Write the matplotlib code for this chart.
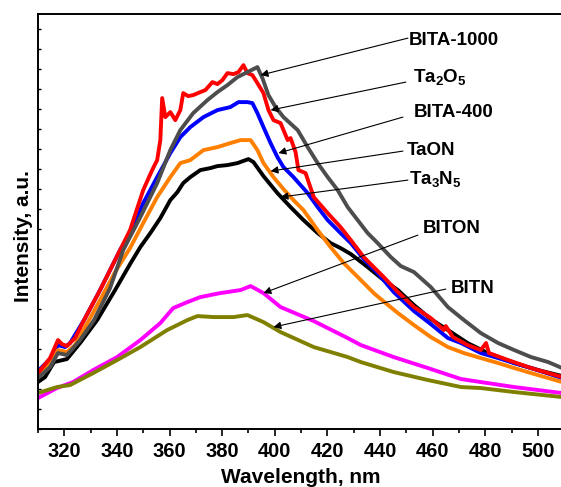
import matplotlib
matplotlib.use("Agg")
import matplotlib.pyplot as plt
from matplotlib.ticker import MultipleLocator, NullFormatter

plt.rcParams['font.family'] = ['Liberation Sans', 'DejaVu Sans']
plt.rcParams['font.weight'] = 'bold'
plt.rcParams['mathtext.fontset'] = 'custom'
plt.rcParams['mathtext.rm'] = 'Liberation Sans:bold'
plt.rcParams['mathtext.default'] = 'rm'

# PL spectra (wavelength in nm, intensity in a.u.)
wl_ta3n5 = [310.0, 312.7, 316.1, 321.0, 326.0, 332.5, 339.3, 345.0, 348.9, 352.7,
            356.5, 360.3, 363.0, 365.2, 367.9, 371.7, 375.5, 378.2, 382.0, 385.8,
            390.0, 391.9, 395.7, 401.0, 406.0, 410.9, 416.3, 421.2, 425.0, 428.9,
            435.3, 441.4, 446.8, 452.9, 459.3, 465.8, 473.3, 481.0, 491.0, 500.1, 509.2]
i_ta3n5 = [2.35, 2.60, 3.35, 3.50, 4.30, 5.45, 6.95, 8.25, 9.10, 9.80,
           10.55, 11.45, 11.85, 12.30, 12.60, 12.95, 13.05, 13.15, 13.20, 13.30,
           13.50, 13.35, 12.65, 11.80, 11.10, 10.45, 9.80, 9.30, 9.05, 8.75,
           8.10, 7.45, 6.95, 6.20, 5.50, 4.95, 4.30, 3.80, 3.30, 2.95, 2.65]

wl_ta2o5 = [310.0, 314.6, 317.6, 319.1, 321.0, 324.1, 327.5, 333.6, 341.2, 345.0,
            350.0, 353.4, 355.3, 356.5, 357.2, 358.4, 360.3, 362.2, 364.1, 365.2,
            367.1, 369.0, 371.7, 373.6, 376.3, 378.2, 380.1, 382.0, 384.3, 386.2,
            388.1, 389.6, 391.5, 393.4, 395.7, 397.6, 399.5, 402.2, 404.9, 406.0,
            407.9, 409.0, 411.7, 414.8, 420.1, 425.0, 428.9, 433.8, 437.6, 441.4,
            446.8, 452.9, 459.3, 464.3, 465.0, 467.7, 473.3, 478.3, 480.3, 481.4,
            488.7, 497.4, 509.2]
i_ta2o5 = [2.80, 3.55, 4.45, 4.25, 4.15, 4.55, 5.45, 6.95, 8.95, 9.95,
           11.95, 12.95, 13.45, 14.45, 16.55, 15.60, 15.85, 15.45, 15.95, 16.80,
           16.65, 16.70, 16.85, 16.95, 17.35, 17.25, 17.45, 17.80, 17.75, 17.85,
           18.20, 17.80, 17.70, 17.30, 16.80, 15.95, 15.45, 15.30, 14.45, 14.55,
           13.85, 12.95, 12.80, 11.60, 10.80, 10.10, 9.45, 8.60, 8.10, 7.60,
           6.85, 6.10, 5.55, 4.95, 5.15, 4.60, 4.20, 3.95, 4.30, 3.80,
           3.45, 3.05, 2.60]

wl_bita1000 = [310.0, 314.6, 317.6, 321.0, 326.0, 331.3, 337.4, 342.4, 348.9, 355.3,
               360.3, 364.1, 369.0, 374.4, 378.2, 382.0, 385.8, 389.6, 393.4, 395.3,
               397.6, 400.3, 403.3, 408.7, 412.5, 416.3, 420.1, 423.9, 427.7, 431.5,
               435.3, 439.1, 444.1, 447.9, 452.9, 459.3, 465.8, 471.9, 478.3, 484.9,
               491.0, 497.4, 503.9, 509.2]
i_bita1000 = [2.55, 3.10, 3.80, 3.70, 4.45, 5.45, 7.05, 8.95, 10.60, 12.30,
              13.95, 14.95, 15.80, 16.45, 16.85, 17.20, 17.60, 17.85, 18.10, 17.55,
              16.70, 16.10, 15.60, 14.95, 14.10, 13.30, 12.60, 11.95, 11.10, 10.45,
              9.80, 9.30, 8.60, 8.15, 7.85, 7.10, 6.10, 5.45, 4.80, 4.30,
              3.95, 3.60, 3.35, 3.05]

wl_bita400 = [310.0, 314.6, 317.6, 320.3, 322.2, 327.5, 333.6, 341.2, 345.0, 350.0,
              355.3, 360.3, 364.1, 367.9, 372.9, 378.2, 383.1, 386.2, 389.6, 391.5,
              393.4, 395.7, 398.4, 401.0, 403.3, 407.1, 412.5, 416.3, 420.1, 425.0,
              428.9, 433.8, 439.1, 445.2, 452.9, 459.3, 465.8, 470.8, 478.3, 484.9,
              491.0, 497.4, 509.2]
i_bita400 = [2.90, 3.50, 4.20, 4.10, 4.30, 5.45, 6.95, 8.95, 9.80, 11.30,
             12.60, 13.80, 14.60, 15.10, 15.60, 15.95, 16.10, 16.35, 16.35, 16.30,
             15.80, 15.10, 14.30, 13.60, 13.10, 12.60, 11.80, 11.10, 10.45, 9.80,
             9.30, 8.50, 7.80, 6.85, 5.90, 5.25, 4.55, 4.30, 3.80, 3.55,
             3.30, 3.05, 2.55]

wl_taon = [310.0, 314.6, 317.6, 321.0, 324.1, 329.4, 333.6, 339.3, 345.0, 350.0,
           355.3, 360.3, 364.1, 367.9, 372.9, 378.2, 383.1, 387.0, 390.8, 393.4,
           395.7, 399.5, 403.3, 407.1, 410.9, 416.3, 421.2, 426.2, 432.7, 437.6,
           440.3, 446.8, 452.9, 459.3, 465.8, 471.9, 478.3, 484.9, 491.0, 497.4, 509.2]
i_taon = [2.70, 3.25, 3.95, 3.85, 4.20, 5.45, 6.45, 7.85, 9.05, 10.30,
          11.60, 12.60, 13.30, 13.45, 13.95, 14.10, 14.30, 14.45, 14.45, 13.95,
          13.30, 12.60, 12.00, 11.45, 10.95, 9.95, 9.10, 8.30, 7.45, 6.80,
          6.50, 5.80, 5.20, 4.60, 4.10, 3.80, 3.55, 3.30, 3.05, 2.80, 2.35]

wl_biton = [310.0, 317.2, 323.3, 331.0, 340.1, 348.9, 356.5, 361.4, 366.8, 371.7,
            379.3, 387.0, 390.8, 395.7, 402.2, 414.8, 427.7, 432.7, 445.2, 458.2,
            470.8, 478.3, 491.0, 509.2]
i_biton = [1.55, 2.05, 2.35, 2.95, 3.60, 4.45, 5.30, 6.05, 6.35, 6.60,
           6.80, 6.95, 7.15, 6.80, 6.10, 5.40, 4.55, 4.20, 3.60, 3.05,
           2.50, 2.35, 2.10, 1.80]

wl_bitn = [310.0, 317.2, 322.2, 331.0, 340.1, 348.9, 359.1, 366.8, 370.6, 376.7,
           384.3, 389.6, 395.7, 402.2, 414.8, 427.7, 432.7, 445.2, 458.2, 470.8,
           478.3, 491.0, 509.2]
i_bitn = [1.80, 2.10, 2.20, 2.80, 3.45, 4.10, 4.95, 5.45, 5.65, 5.60,
          5.60, 5.70, 5.35, 4.85, 4.10, 3.60, 3.35, 2.85, 2.45, 2.10,
          2.05, 1.85, 1.60]

fig = plt.figure(figsize=(5.61, 4.87), dpi=100)
ax = fig.add_axes([0.0677, 0.119, 0.938, 0.852])

lw = 2.8
ax.plot(wl_ta3n5, i_ta3n5, color='black', lw=lw)
ax.plot(wl_bita400, i_bita400, color='#0000ff', lw=lw)
ax.plot(wl_taon, i_taon, color='#ff8000', lw=lw)
ax.plot(wl_ta2o5, i_ta2o5, color='#ff0000', lw=lw)
ax.plot(wl_bita1000, i_bita1000, color='#4d4d4d', lw=lw)
ax.plot(wl_biton, i_biton, color='#ff00ff', lw=lw)
ax.plot(wl_bitn, i_bitn, color='#808000', lw=lw)

ax.set_xlim(310, 510)
ax.set_ylim(0, 20.75)

ax.xaxis.set_major_locator(MultipleLocator(20))
ax.xaxis.set_minor_locator(MultipleLocator(10))
ax.yaxis.set_major_locator(MultipleLocator(1))
ax.yaxis.set_major_formatter(NullFormatter())
ax.tick_params(axis='x', which='major', direction='out', length=5, width=1.2,
               labelsize=14.5, pad=4)
ax.tick_params(axis='x', which='minor', direction='out', length=3, width=1.2)
ax.tick_params(axis='y', which='major', direction='in', length=2.5, width=1)
for lab in ax.get_xticklabels():
    lab.set_fontweight('bold')
for sp in ax.spines.values():
    sp.set_linewidth(1.4)

ax.set_xlabel('Wavelength, nm', fontsize=15, fontweight='bold', labelpad=5.5)
ax.set_ylabel('Intensity, a.u.', fontsize=15, fontweight='bold')
ax.yaxis.set_label_coords(-0.01, 0.465)

# labels with arrows: (text, text anchor, arrow start, arrow tip)
labels = [
    ('BITA-1000', (450.9, 19.45), (450.6, 19.55), (394.6, 17.7)),
    ('Ta$_2$O$_5$', (452.5, 17.6), (449.8, 17.35), (398.4, 15.95)),
    ('BITA-400', (452.9, 15.85), (448.7, 15.6), (401.4, 13.8)),
    ('TaON', (450.2, 13.95), (448.7, 13.9), (398.4, 12.9)),
    ('Ta$_3$N$_5$', (451.0, 12.5), (450.6, 12.45), (402.2, 11.6)),
    ('BITON', (456.3, 10.05), (454.4, 9.7), (395.7, 6.8)),
    ('BITN', (467.0, 7.05), (465.0, 7.0), (399.5, 5.1)),
]
for txt, tpos, start, tip in labels:
    ax.annotate('', xy=tip, xytext=start,
                arrowprops=dict(arrowstyle='-|>', color='black', lw=0.8,
                                mutation_scale=11, shrinkA=0, shrinkB=0))
    ax.text(tpos[0], tpos[1], txt, fontsize=13.5, fontweight='bold',
            ha='left', va='center')

fig.savefig('out.png', dpi=100)
